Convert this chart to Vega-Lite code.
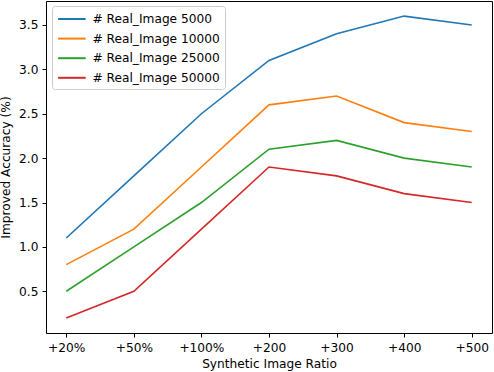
{
  "$schema": "https://vega.github.io/schema/vega-lite/v6.json",
  "autosize": "none",
  "width": 446,
  "height": 332,
  "padding": {"left": 46, "top": 1, "right": 2, "bottom": 39},
  "background": "white",
  "config": {
    "font": "DejaVu Sans",
    "view": {"stroke": "black", "strokeWidth": 1},
    "axis": {"grid": false, "domain": false, "tickColor": "black", "tickSize": 4, "labelColor": "black", "titleColor": "black", "labelFont": "DejaVu Sans", "titleFont": "DejaVu Sans", "labelFontSize": 12.2, "titleFontSize": 12.2, "titleFontWeight": "normal"}
  },
  "data": {"values": [
    {"ratio": "+20%", "acc": 1.1, "series": "# Real_Image 5000"},
    {"ratio": "+50%", "acc": 1.8, "series": "# Real_Image 5000"},
    {"ratio": "+100%", "acc": 2.5, "series": "# Real_Image 5000"},
    {"ratio": "+200", "acc": 3.1, "series": "# Real_Image 5000"},
    {"ratio": "+300", "acc": 3.4, "series": "# Real_Image 5000"},
    {"ratio": "+400", "acc": 3.6, "series": "# Real_Image 5000"},
    {"ratio": "+500", "acc": 3.5, "series": "# Real_Image 5000"},
    {"ratio": "+20%", "acc": 0.8, "series": "# Real_Image 10000"},
    {"ratio": "+50%", "acc": 1.2, "series": "# Real_Image 10000"},
    {"ratio": "+100%", "acc": 1.9, "series": "# Real_Image 10000"},
    {"ratio": "+200", "acc": 2.6, "series": "# Real_Image 10000"},
    {"ratio": "+300", "acc": 2.7, "series": "# Real_Image 10000"},
    {"ratio": "+400", "acc": 2.4, "series": "# Real_Image 10000"},
    {"ratio": "+500", "acc": 2.3, "series": "# Real_Image 10000"},
    {"ratio": "+20%", "acc": 0.5, "series": "# Real_Image 25000"},
    {"ratio": "+50%", "acc": 1.0, "series": "# Real_Image 25000"},
    {"ratio": "+100%", "acc": 1.5, "series": "# Real_Image 25000"},
    {"ratio": "+200", "acc": 2.1, "series": "# Real_Image 25000"},
    {"ratio": "+300", "acc": 2.2, "series": "# Real_Image 25000"},
    {"ratio": "+400", "acc": 2.0, "series": "# Real_Image 25000"},
    {"ratio": "+500", "acc": 1.9, "series": "# Real_Image 25000"},
    {"ratio": "+20%", "acc": 0.2, "series": "# Real_Image 50000"},
    {"ratio": "+50%", "acc": 0.5, "series": "# Real_Image 50000"},
    {"ratio": "+100%", "acc": 1.2, "series": "# Real_Image 50000"},
    {"ratio": "+200", "acc": 1.9, "series": "# Real_Image 50000"},
    {"ratio": "+300", "acc": 1.8, "series": "# Real_Image 50000"},
    {"ratio": "+400", "acc": 1.6, "series": "# Real_Image 50000"},
    {"ratio": "+500", "acc": 1.5, "series": "# Real_Image 50000"}
  ]},
  "mark": {"type": "line", "strokeWidth": 1.6},
  "encoding": {
    "x": {"field": "ratio", "type": "ordinal", "sort": ["+20%", "+50%", "+100%", "+200", "+300", "+400", "+500"], "scale": {"type": "point", "padding": 0.3}, "axis": {"title": "Synthetic Image Ratio", "labelAngle": 0, "labelPadding": 4, "titlePadding": 4}},
    "y": {"field": "acc", "type": "quantitative", "scale": {"domain": [0.03, 3.77], "nice": false, "zero": false}, "axis": {"title": "Improved Accuracy (%)", "values": [0.5, 1.0, 1.5, 2.0, 2.5, 3.0, 3.5], "format": ".1f", "labelPadding": 4, "titlePadding": 6}},
    "color": {"field": "series", "type": "nominal", "sort": ["# Real_Image 5000", "# Real_Image 10000", "# Real_Image 25000", "# Real_Image 50000"], "scale": {"range": ["#1f77b4", "#ff7f0e", "#2ca02c", "#d62728"]}, "legend": {"title": null, "orient": "none", "legendX": 6, "legendY": 5, "symbolType": "M-1,0L3,0", "symbolSize": 190, "symbolStrokeWidth": 2, "symbolFillColor": "transparent", "labelFontSize": 12.2, "labelFont": "DejaVu Sans", "labelColor": "black", "labelOffset": 19.5, "rowPadding": 4.6, "padding": 5, "strokeColor": "#cccccc", "fillColor": "white", "cornerRadius": 3}}
  }
}
